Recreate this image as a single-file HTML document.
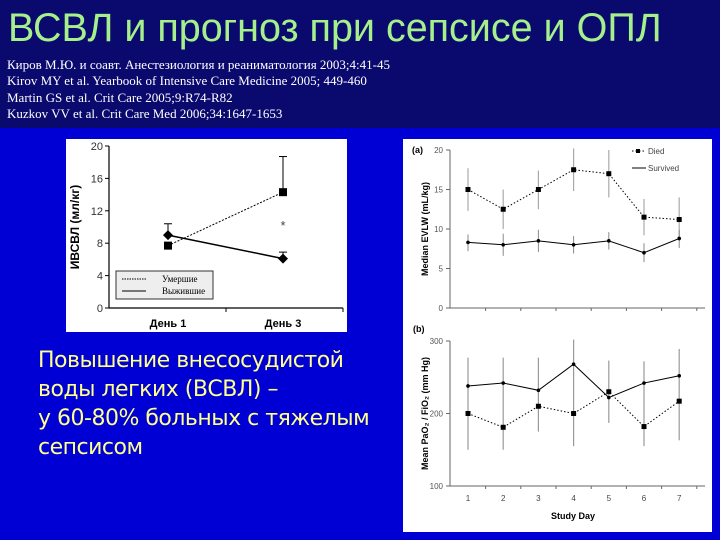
<!DOCTYPE html>
<html><head><meta charset="utf-8"><style>
body{margin:0;width:720px;height:540px;overflow:hidden;background:#0000d4;font-family:"Liberation Sans",sans-serif}
#top{position:absolute;left:0;top:0;width:720px;height:128px;background:#0a0a6e}
#title{position:absolute;left:8px;top:6px;font-size:39.5px;color:#a6f08c;white-space:nowrap;letter-spacing:0px}
.ref{position:absolute;left:7px;font-family:"Liberation Serif",serif;font-size:13px;color:#fff;white-space:nowrap}
#txt{position:absolute;left:38px;top:346px;font-size:22px;line-height:29px;color:#ffff8c;font-family:"DejaVu Sans","Liberation Sans",sans-serif;letter-spacing:-0.5px}
svg{position:absolute;left:0;top:0}
</style></head><body>
<div id="top"></div>
<div id="title">ВСВЛ и прогноз при сепсисе и ОПЛ</div>
<div class="ref" style="top:57px">Киров М.Ю. и соавт. Анестезиология и реаниматология 2003;4:41-45</div>
<div class="ref" style="top:73px">Kirov MY et al. Yearbook of Intensive Care Medicine 2005; 449-460</div>
<div class="ref" style="top:90px">Martin GS et al.  Crit Care 2005;9:R74-R82</div>
<div class="ref" style="top:106px">Kuzkov VV et al. Crit Care Med 2006;34:1647-1653</div>
<div id="txt">Повышение внесосудистой<br>воды легких (ВСВЛ) –<br>у 60-80% больных с тяжелым<br>сепсисом</div>
<svg id="s" width="720" height="540"></svg>
<script>
// Left chart data
const leftCats=["День 1","День 3"];
const leftDied=[7.7,14.3];
const leftDiedErr=[7.7,18.7];
const leftSurv=[9.0,6.1];
const leftSurvErr=[10.4,6.9];
const leftTicks=[0,4,8,12,16,20];
// Right (a)
const days=[1,2,3,4,5,6,7];
const aDied=[15,12.5,15,17.5,17,11.5,11.2];
const aDiedLo=[12.3,10,12.5,14.8,14,9.2,8.5];
const aDiedHi=[17.7,15,17.4,20.2,20,13.8,14];
const aSurv=[8.3,8,8.5,8,8.5,7,8.8];
const aSurvLo=[7.2,6.6,7.1,6.9,7.4,5.8,7.6];
const aSurvHi=[9.3,9.4,9.9,9.1,9.6,8.2,9.9];
const aTicks=[0,5,10,15,20];
// Right (b)
const bSurv=[238,242,232,268,222,242,252];
const bDied=[200,181,210,200,230,182,217];
const bLo=[150,150,175,155,187,155,163];
const bHi=[277,277,277,302,273,272,289];
const bTicks=[100,200,300];

const S=document.getElementById('s');const NS='http://www.w3.org/2000/svg';
function el(t,a,txt){const e=document.createElementNS(NS,t);for(const k in a)e.setAttribute(k,a[k]);if(txt!==undefined)e.textContent=txt;S.appendChild(e);return e;}
let r=el('rect',{x:66,y:139,width:281,height:193,fill:'#fff'});

r=el('rect',{x:403,y:139,width:309,height:393,fill:'#fff'});


// LEFT
const lx=i=>168+i*115, ly=v=>308-v*8.1;
el('line',{x1:109,y1:146,x2:109,y2:308,stroke:'#000','stroke-width':1.2});
el('line',{x1:109,y1:308,x2:343,y2:308,stroke:'#000','stroke-width':1.2});
el('line',{x1:226,y1:308,x2:226,y2:312,stroke:'#000'});el('line',{x1:343,y1:308,x2:343,y2:312,stroke:'#000'});
leftTicks.forEach(t=>{el('line',{x1:105,y1:ly(t),x2:109,y2:ly(t),stroke:'#000'});
 let e=el('text',{x:103,y:ly(t)+4,'text-anchor':'end','font-size':11,fill:'#333'},t);
 });
leftCats.forEach((c,i)=>{let e=el('text',{x:lx(i),y:327,'text-anchor':'middle','font-size':11,'font-weight':'bold'},c);
 });
let yt=el('text',{x:79,y:227,'text-anchor':'middle','font-size':12,'font-weight':'bold',transform:'rotate(-90 79 227)'},'ИВСВЛ (мл/кг)');

[leftDiedErr,leftSurvErr].forEach((er,s)=>er.forEach((v,i)=>{const base=s?leftSurv[i]:leftDied[i];
 el('line',{x1:lx(i),y1:ly(base),x2:lx(i),y2:ly(v),stroke:'#000'});el('line',{x1:lx(i)-4,y1:ly(v),x2:lx(i)+4,y2:ly(v),stroke:'#000'});}));
let p=el('polyline',{points:leftDied.map((v,i)=>lx(i)+','+ly(v)).join(' '),fill:'none',stroke:'#000','stroke-dasharray':'2,1.5'});

p=el('polyline',{points:leftSurv.map((v,i)=>lx(i)+','+ly(v)).join(' '),fill:'none',stroke:'#000','stroke-width':1.5});

leftDied.forEach((v,i)=>{let e=el('rect',{x:lx(i)-4,y:ly(v)-4,width:8,height:8,fill:'#000'});});
leftSurv.forEach((v,i)=>{let e=el('polygon',{points:`${lx(i)},${ly(v)-5} ${lx(i)+5},${ly(v)} ${lx(i)},${ly(v)+5} ${lx(i)-5},${ly(v)}`,fill:'#000'});});
el('text',{x:lx(1),y:ly(10.4)+6,'text-anchor':'middle','font-size':13,fill:'#444'},'*');
let lg=el('rect',{x:116,y:271,width:97,height:28,fill:'#eee',stroke:'#333'});
el('line',{x1:122,y1:279,x2:146,y2:279,stroke:'#000','stroke-dasharray':'1.5,1'});
el('line',{x1:122,y1:291,x2:146,y2:291,stroke:'#000'});
el('text',{x:162,y:282,'font-size':9,'font-family':'Liberation Serif'},'Умершие');
el('text',{x:162,y:294,'font-size':9,'font-family':'Liberation Serif'},'Выжившие');

// RIGHT common
const rx=d=>468+(d-1)*35.2;
function axes(yTop,yBot,ticks,sc,label,tag){
 el('line',{x1:450,y1:yTop,x2:450,y2:yBot,stroke:'#666'});el('line',{x1:450,y1:yBot,x2:705,y2:yBot,stroke:'#666'});
 ticks.forEach(t=>{el('line',{x1:446,y1:sc(t),x2:450,y2:sc(t),stroke:'#666'});
  let e=el('text',{x:443,y:sc(t)+3,'text-anchor':'end','font-size':8,fill:'#555'},t);});
 for(let i=0;i<7;i++){const x=485.6+i*35.2;el('line',{x1:x,y1:yBot,x2:x,y2:yBot+3,stroke:'#666'});}
 let e=el('text',{x:428,y:(yTop+yBot)/2,'text-anchor':'middle','font-size':9,'font-weight':'bold',transform:`rotate(-90 428 ${(yTop+yBot)/2})`},label);
 }
// (a)
const ay=v=>308-v*7.9;
el('text',{x:412,y:153,'font-size':9,'font-weight':'bold'},'(a)');
axes(150,308,aTicks,ay,'Median EVLW (mL/kg)','a');
days.forEach((d,i)=>{el('line',{x1:rx(d),y1:ay(aDiedLo[i]),x2:rx(d),y2:ay(aDiedHi[i]),stroke:'#aaa','stroke-width':1.2});
 el('line',{x1:rx(d),y1:ay(aSurvLo[i]),x2:rx(d),y2:ay(aSurvHi[i]),stroke:'#888'});});
p=el('polyline',{points:aDied.map((v,i)=>rx(days[i])+','+ay(v)).join(' '),fill:'none',stroke:'#000','stroke-dasharray':'1.5,2'});

p=el('polyline',{points:aSurv.map((v,i)=>rx(days[i])+','+ay(v)).join(' '),fill:'none',stroke:'#000'});

aDied.forEach((v,i)=>{let e=el('rect',{x:rx(days[i])-2.5,y:ay(v)-2.5,width:5,height:5,fill:'#000'});});
aSurv.forEach((v,i)=>{let e=el('circle',{cx:rx(days[i]),cy:ay(v),r:1.8,fill:'#000'});});
el('line',{x1:632,y1:151,x2:646,y2:151,stroke:'#000','stroke-dasharray':'1.5,2'});el('rect',{x:636,y:149,width:4,height:4});
el('text',{x:648,y:154,'font-size':8,fill:'#444'},'Died');
el('line',{x1:632,y1:168,x2:646,y2:168,stroke:'#000'});
el('text',{x:648,y:171,'font-size':8,fill:'#444'},'Survived');
// (b)
const by=v=>486-(v-100)*0.725;
el('text',{x:413,y:332,'font-size':9,'font-weight':'bold'},'(b)');
axes(341,486,bTicks,by,'Mean PaO₂ / FiO₂ (mm Hg)','b');
days.forEach((d,i)=>{el('line',{x1:rx(d),y1:by(bLo[i]),x2:rx(d),y2:by(bHi[i]),stroke:'#999','stroke-width':1.2});
 let e=el('text',{x:rx(d),y:501,'text-anchor':'middle','font-size':8,fill:'#444'},d);});
p=el('polyline',{points:bDied.map((v,i)=>rx(days[i])+','+by(v)).join(' '),fill:'none',stroke:'#000','stroke-dasharray':'1.5,2'});

p=el('polyline',{points:bSurv.map((v,i)=>rx(days[i])+','+by(v)).join(' '),fill:'none',stroke:'#000'});

bDied.forEach((v,i)=>{let e=el('rect',{x:rx(days[i])-2.5,y:by(v)-2.5,width:5,height:5,fill:'#000'});});
bSurv.forEach((v,i)=>{let e=el('circle',{cx:rx(days[i]),cy:by(v),r:1.8,fill:'#000'});});
let xt=el('text',{x:573,y:519,'text-anchor':'middle','font-size':9,'font-weight':'bold'},'Study Day');

</script>
</body></html>
